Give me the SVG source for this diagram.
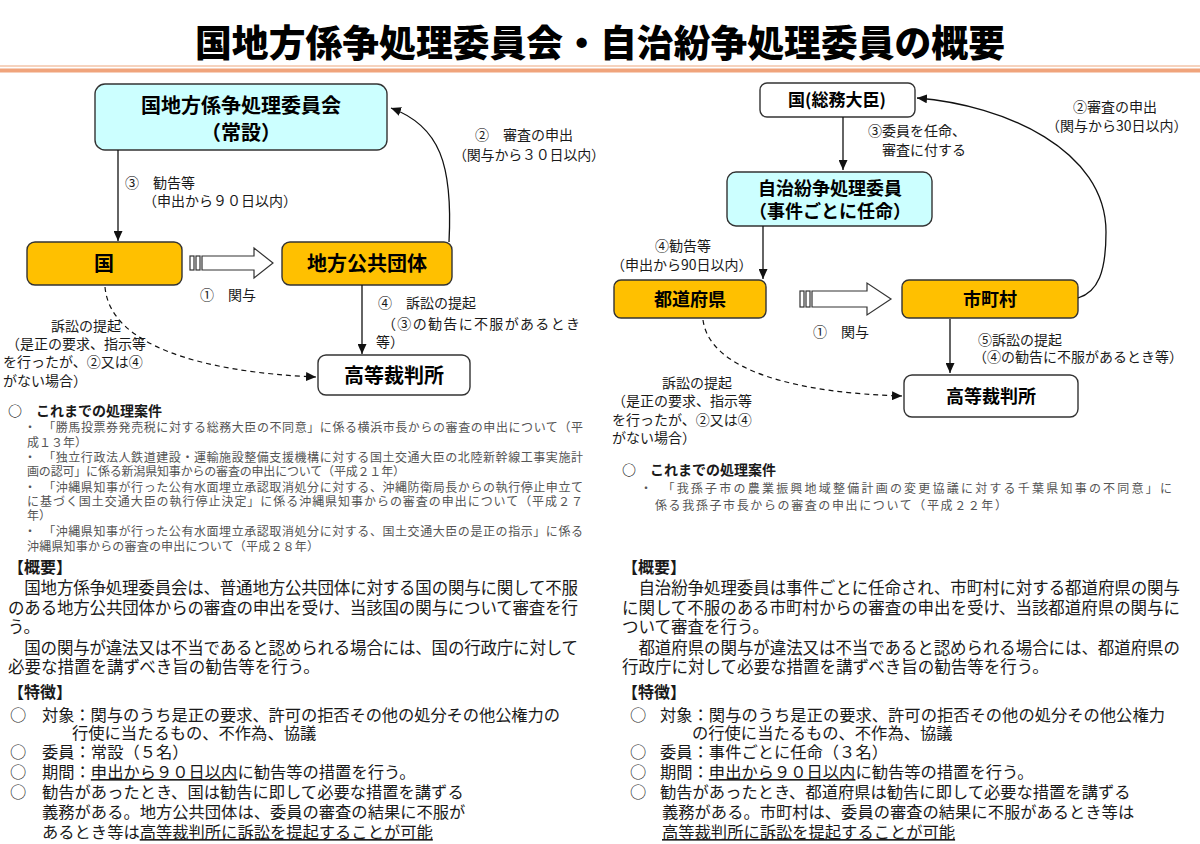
<svg xmlns="http://www.w3.org/2000/svg" width="1200" height="844" viewBox="0 0 1200 844">
<defs>
<marker id="ah" markerUnits="userSpaceOnUse" markerWidth="10" markerHeight="9" refX="10" refY="4.5" orient="auto">
<path d="M0,0 L10,4.5 L0,9 z" fill="#111"/>
</marker>
</defs>
<style>
text{font-family:"Noto Sans CJK JP","Noto Sans",sans-serif;fill:#1a1a1a}
.title{font-size:37px;font-weight:900;fill:#000}
.bt{font-size:18px;font-weight:700;text-anchor:middle;fill:#000}
.bl{font-size:20px}
.lbl{font-size:14px}
.mid{text-anchor:middle}
.case{font-size:12px;fill:#555}
.head{font-size:14px;font-weight:700}
.sec{font-size:16px;font-weight:700}
.body{font-size:16.5px}
.feat{font-size:16.3px}
.u{text-decoration:underline}
.cyan{fill:#ccffff;stroke:#333;stroke-width:1.4}
.org{fill:#ffc000;stroke:#333;stroke-width:1.4}
.wht{fill:#fff;stroke:#333;stroke-width:1.4}
.ln{fill:none;stroke:#111;stroke-width:1.3}
.dash{fill:none;stroke:#111;stroke-width:1.2;stroke-dasharray:5 4}
.hol{fill:#fff;stroke:#333;stroke-width:1.2}
</style>
<rect width="1200" height="844" fill="#fff"/>

<g id="title">
<text class="title" x="600" y="57" text-anchor="middle" textLength="810" lengthAdjust="spacingAndGlyphs">国地方係争処理委員会・自治紛争処理委員の概要</text>
<line x1="0" y1="66" x2="1200" y2="66" stroke="#f3c4a8" stroke-width="1.5"/>
<rect x="0" y="68.5" width="1200" height="4" fill="#f0a47c"/>
</g>

<!-- LEFT DIAGRAM -->
<g id="node-kunichiho-iinkai">
<rect class="cyan" x="95" y="84" width="292" height="66" rx="10"/>
<text class="bt bl" x="241" y="113">国地方係争処理委員会</text>
<text class="bt bl" x="241" y="140">（常設）</text>
</g>
<g id="node-kuni">
<rect class="org" x="27" y="242" width="155" height="43" rx="8"/>
<text class="bt bl" x="104" y="271">国</text>
</g>
<g id="node-chiho">
<rect class="org" x="282" y="242" width="170" height="43" rx="8"/>
<text class="bt bl" x="367" y="271">地方公共団体</text>
</g>
<g id="node-kosai-left">
<rect class="wht" x="318" y="355" width="152" height="40" rx="8"/>
<text class="bt bl" x="394" y="383">高等裁判所</text>
</g>

<!-- RIGHT DIAGRAM -->
<g id="node-soumu">
<rect class="wht" x="760" y="83" width="155" height="34" rx="7"/>
<text class="bt" x="837" y="106" style="font-size:17px">国(総務大臣)</text>
</g>
<g id="node-jichi-iin">
<rect class="cyan" x="727" y="172" width="205" height="54" rx="9"/>
<text class="bt" x="830" y="195">自治紛争処理委員</text>
<text class="bt" x="830" y="218">（事件ごとに任命）</text>
</g>
<g id="node-todofuken">
<rect class="org" x="614" y="280" width="152" height="38" rx="7"/>
<text class="bt" x="690" y="306">都道府県</text>
</g>
<g id="node-shichoson">
<rect class="org" x="902" y="280" width="176" height="38" rx="7"/>
<text class="bt" x="990" y="306">市町村</text>
</g>
<g id="node-kosai-right">
<rect class="wht" x="904" y="375" width="174" height="42" rx="8"/>
<text class="bt" x="991" y="403">高等裁判所</text>
</g>

<g id="connectors">
<!-- left -->
<line class="ln" x1="118" y1="150" x2="118" y2="241" marker-end="url(#ah)"/>
<path class="ln" d="M449,242 C453,165 440,126 391,108" marker-end="url(#ah)"/>
<line class="ln" x1="362" y1="285" x2="362" y2="354" marker-end="url(#ah)"/>
<path class="dash" d="M105,287 C110,345 200,372 316,377" marker-end="url(#ah)"/>
<rect class="hol" x="190" y="256" width="4" height="14"/>
<rect class="hol" x="196" y="256" width="4" height="14"/>
<polygon class="hol" points="202,256 254,256 254,248 273,263 254,278 254,270 202,270"/>
<!-- right -->
<line class="ln" x1="843" y1="117" x2="843" y2="170" marker-end="url(#ah)"/>
<line class="ln" x1="763" y1="226" x2="763" y2="279" marker-end="url(#ah)"/>
<path class="ln" d="M1078,298 C1098,292 1106,272 1106,232 C1106,150 1005,105 917,98" marker-end="url(#ah)"/>
<line class="ln" x1="950" y1="319" x2="950" y2="373" marker-end="url(#ah)"/>
<path class="dash" d="M703,320 C710,372 800,393 902,396" marker-end="url(#ah)"/>
<rect class="hol" x="800" y="291" width="4" height="16"/>
<rect class="hol" x="806" y="291" width="4" height="16"/>
<polygon class="hol" points="812,291 867,291 867,283 891,299 867,315 867,307 812,307"/>
</g>

<g id="labels-left">
<text class="lbl" x="125" y="188">③　勧告等</text>
<text class="lbl" x="143" y="206">（申出から９０日以内）</text>
<text class="lbl" x="475" y="140">②　審査の申出</text>
<text class="lbl" x="453" y="160" textLength="152">（関与から３０日以内）</text>
<text class="lbl" x="200" y="300">①　関与</text>
<text class="lbl" x="378" y="308">④　訴訟の提起</text>
<text class="lbl" x="382" y="329" textLength="198">（③の勧告に不服があるとき</text>
<text class="lbl" x="376" y="347">等）</text>
<text class="lbl mid" x="86" y="331">訴訟の提起</text>
<text class="lbl" x="6" y="349">（是正の要求、指示等</text>
<text class="lbl" x="3" y="367">を行ったが、②又は④</text>
<text class="lbl" x="3" y="386">がない場合）</text>
</g>

<g id="labels-right">
<text class="lbl" x="868" y="136">③委員を任命、</text>
<text class="lbl" x="882" y="155">審査に付する</text>
<text class="lbl" x="1073" y="112">②審査の申出</text>
<text class="lbl" x="1046" y="131">（関与から30日以内）</text>
<text class="lbl" x="655" y="251">④勧告等</text>
<text class="lbl" x="611" y="270">（申出から90日以内）</text>
<text class="lbl" x="813" y="337">①　関与</text>
<text class="lbl" x="978" y="345">⑤訴訟の提起</text>
<text class="lbl" x="973" y="362">（④の勧告に不服があるとき等）</text>
<text class="lbl mid" x="697" y="388">訴訟の提起</text>
<text class="lbl" x="612" y="406">（是正の要求、指示等</text>
<text class="lbl" x="612" y="425">を行ったが、②又は④</text>
<text class="lbl" x="612" y="443">がない場合）</text>
</g>

<g id="cases-left">
<text class="head" x="8" y="416">○　これまでの処理案件</text>
<text class="case" x="24" y="432" textLength="559">・　「勝馬投票券発売税に対する総務大臣の不同意」に係る横浜市長からの審査の申出について（平</text>
<text class="case" x="27" y="447">成１３年）</text>
<text class="case" x="24" y="462" textLength="559">・　「独立行政法人鉄道建設・運輸施設整備支援機構に対する国土交通大臣の北陸新幹線工事実施計</text>
<text class="case" x="27" y="476" textLength="378">画の認可」に係る新潟県知事からの審査の申出について（平成２１年）</text>
<text class="case" x="24" y="492" textLength="559">・　「沖縄県知事が行った公有水面埋立承認取消処分に対する、沖縄防衛局長からの執行停止申立て</text>
<text class="case" x="27" y="506" textLength="556">に基づく国土交通大臣の執行停止決定」に係る沖縄県知事からの審査の申出について（平成２７</text>
<text class="case" x="27" y="520">年）</text>
<text class="case" x="24" y="536" textLength="559">・　「沖縄県知事が行った公有水面埋立承認取消処分に対する、国土交通大臣の是正の指示」に係る</text>
<text class="case" x="27" y="551" textLength="292">沖縄県知事からの審査の申出について（平成２８年）</text>
</g>

<g id="cases-right">
<text class="head" x="622" y="475">○　これまでの処理案件</text>
<text class="case" x="640" y="493" textLength="532">・　「我孫子市の農業振興地域整備計画の変更協議に対する千葉県知事の不同意」に</text>
<text class="case" x="655" y="510" textLength="352">係る我孫子市長からの審査の申出について（平成２２年）</text>
</g>

<g id="summary-left">
<text class="sec" x="8" y="573">【概要】</text>
<text class="body" x="8" y="594" textLength="570">　国地方係争処理委員会は、普通地方公共団体に対する国の関与に関して不服</text>
<text class="body" x="8" y="614" textLength="570">のある地方公共団体からの審査の申出を受け、当該国の関与について審査を行</text>
<text class="body" x="8" y="633">う。</text>
<text class="body" x="8" y="654" textLength="570">　国の関与が違法又は不当であると認められる場合には、国の行政庁に対して</text>
<text class="body" x="8" y="673">必要な措置を講ずべき旨の勧告等を行う。</text>
<text class="sec" x="8" y="698">【特徴】</text>
<text class="feat" x="10" y="721">○</text>
<text class="feat" x="42" y="721" textLength="518">対象：関与のうち是正の要求、許可の拒否その他の処分その他公権力の</text>
<text class="feat" x="72" y="739">行使に当たるもの、不作為、協議</text>
<text class="feat" x="10" y="758">○</text>
<text class="feat" x="42" y="758">委員：常設（５名）</text>
<text class="feat" x="10" y="778">○</text>
<text class="feat" x="42" y="778">期間：<tspan class="u">申出から９０日以内</tspan>に勧告等の措置を行う。</text>
<text class="feat" x="10" y="798">○</text>
<text class="feat" x="42" y="798">勧告があったとき、国は勧告に即して必要な措置を講ずる</text>
<text class="feat" x="42" y="818">義務がある。地方公共団体は、委員の審査の結果に不服が</text>
<text class="feat" x="42" y="838">あるとき等は<tspan class="u">高等裁判所に訴訟を提起することが可能</tspan></text>
</g>

<g id="summary-right">
<text class="sec" x="622" y="573">【概要】</text>
<text class="body" x="622" y="594" textLength="558">　自治紛争処理委員は事件ごとに任命され、市町村に対する都道府県の関与</text>
<text class="body" x="622" y="614" textLength="558">に関して不服のある市町村からの審査の申出を受け、当該都道府県の関与に</text>
<text class="body" x="622" y="633">ついて審査を行う。</text>
<text class="body" x="622" y="654" textLength="558">　都道府県の関与が違法又は不当であると認められる場合には、都道府県の</text>
<text class="body" x="622" y="673">行政庁に対して必要な措置を講ずべき旨の勧告等を行う。</text>
<text class="sec" x="622" y="698">【特徴】</text>
<text class="feat" x="630" y="721">○</text>
<text class="feat" x="660" y="721" textLength="505">対象：関与のうち是正の要求、許可の拒否その他の処分その他公権力</text>
<text class="feat" x="692" y="739">の行使に当たるもの、不作為、協議</text>
<text class="feat" x="630" y="758">○</text>
<text class="feat" x="660" y="758">委員：事件ごとに任命（３名）</text>
<text class="feat" x="630" y="778">○</text>
<text class="feat" x="660" y="778">期間：<tspan class="u">申出から９０日以内</tspan>に勧告等の措置を行う。</text>
<text class="feat" x="630" y="798">○</text>
<text class="feat" x="660" y="798">勧告があったとき、都道府県は勧告に即して必要な措置を講ずる</text>
<text class="feat" x="662" y="818">義務がある。市町村は、委員の審査の結果に不服があるとき等は</text>
<text class="feat" x="662" y="838"><tspan class="u">高等裁判所に訴訟を提起することが可能</tspan></text>
</g>
</svg>
